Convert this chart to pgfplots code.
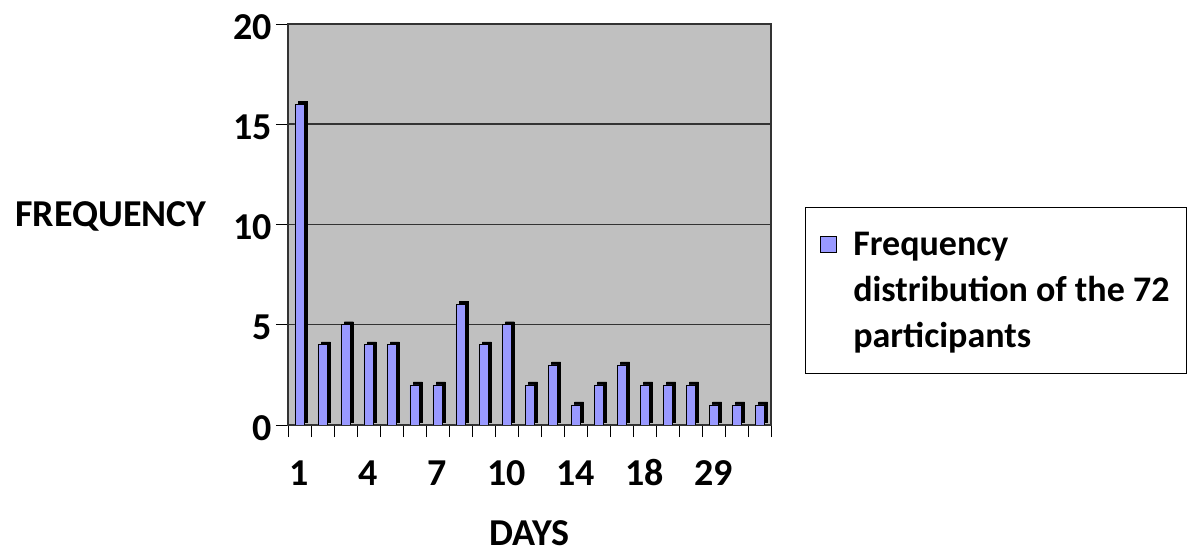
\documentclass[border=0pt]{standalone}
\usepackage{pgfplots}
\pgfplotsset{compat=1.18}
\usepackage{fontspec}
\setmainfont{Carlito}
\definecolor{barblue}{HTML}{9999FF}
\definecolor{wall}{HTML}{C0C0C0}
\definecolor{gridc}{HTML}{333333}
\newcommand{\bigbf}{\fontsize{38}{46}\selectfont\bfseries}
\newcommand{\legbf}{\fontsize{36}{46}\selectfont\bfseries}

\pgfplotstableread{
pos freq
0 16
1 4
2 5
3 4
4 4
5 2
6 2
7 6
8 4
9 5
10 2
11 3
12 1
13 2
14 3
15 2
16 2
17 2
18 1
19 1
20 1
}\daystable

\begin{document}
\begin{tikzpicture}
\begin{axis}[
  name=main,
  at={(0pt,0pt)}, anchor=south west,
  scale only axis, width=483pt, height=401pt,
  xmin=-0.5, xmax=20.5, ymin=0, ymax=20,
  axis background/.style={fill=wall},
  axis line style={draw=gridc, line width=1.5pt},
  tick align=outside, tick pos=left,
  major tick length=12pt,
  tick style={black, line width=0.8pt},
  xtick={-0.5,0.5,...,20.5}, xticklabels={},
  extra x ticks={0,3,6,9,12,15,18},
  extra x tick labels={1,4,7,10,14,18,29},
  extra x tick style={major tick length=0pt, grid=none},
  ytick={0,5,10,15,20},
  ymajorgrids, grid style={gridc, line width=1.5pt},
  /pgf/number format/assume math mode=true,
  ticklabel style={font=\bigbf},
  yticklabel style={inner sep=2pt, xshift=-2pt, yshift=-3pt},
  xticklabel style={inner sep=0pt, text height=24pt, text depth=0pt, yshift=-36pt},
  ybar, bar width=9pt,
  xlabel={DAYS},
  xlabel style={font=\bigbf, text depth=0pt, at={(rel axis cs:0.5,0)}, anchor=center, yshift=-108pt},
  ylabel={FREQUENCY},
  ylabel style={font=\bigbf, rotate=-90, at={(rel axis cs:0,0.5)}, anchor=east, xshift=-78pt, yshift=8pt},
  legend style={at={(rel axis cs:1.0704,0.5436)}, anchor=north west,
    draw=black, line width=0.6pt, font=\legbf, inner xsep=15pt, inner ysep=22.5pt,
    column sep=14pt,
    nodes={align=left, anchor=west, inner xsep=2pt}, cells={anchor=west}},
  legend image code/.code={\draw[fill=barblue, draw=black, line width=1pt] (0pt,38pt) rectangle (16pt,54pt);},
]
% dark depth faces behind each bar
\addplot[fill=black, draw=black, bar shift=3.5pt, yshift=3pt, forget plot] table[x=pos, y=freq] {\daystable};
% front faces
\addplot[fill=barblue, draw=black, line width=0.6pt] table[x=pos, y=freq] {\daystable};
\addlegendentry{Frequency\\distribution of the 72\\participants}
\end{axis}
\pgfresetboundingbox
\useasboundingbox ([shift={(-288pt,-128pt)}]main.south west) rectangle +(1193pt,553pt);
\end{tikzpicture}
\end{document}
